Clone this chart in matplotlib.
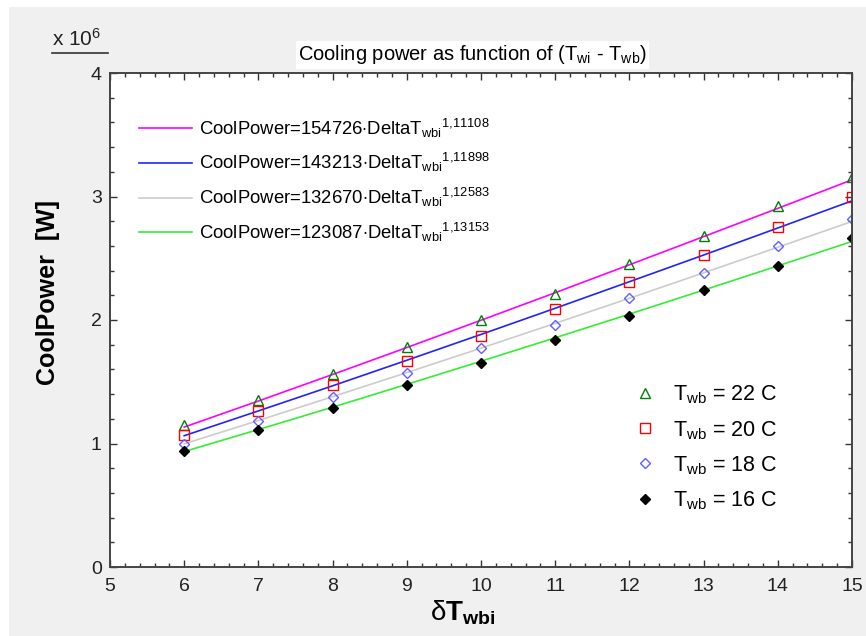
import numpy as np
import matplotlib
matplotlib.use("Agg")
import matplotlib.pyplot as plt
from matplotlib.lines import Line2D
from matplotlib.ticker import MultipleLocator

plt.rcParams['font.family'] = 'Liberation Sans'
plt.rcParams['mathtext.fontset'] = 'custom'
plt.rcParams['mathtext.rm'] = 'Liberation Sans'
plt.rcParams['mathtext.it'] = 'Liberation Sans:italic'
plt.rcParams['mathtext.bf'] = 'Liberation Sans:bold'

# ---- data (values in units of 1e6 W) ----
dT = [6, 7, 8, 9, 10, 11, 12, 13, 14, 15]

# measured points
p22 = [1.15, 1.35, 1.56, 1.78, 2.00, 2.21, 2.45, 2.68, 2.92, 3.16]
p20 = [1.07, 1.26, 1.47, 1.67, 1.87, 2.09, 2.31, 2.53, 2.75, 3.00]
p18 = [1.00, 1.18, 1.38, 1.57, 1.77, 1.96, 2.18, 2.38, 2.60, 2.82]
p16 = [0.94, 1.11, 1.29, 1.47, 1.65, 1.84, 2.03, 2.24, 2.44, 2.66]

# fitted curves
f22 = [1.133, 1.344, 1.559, 1.777, 1.998, 2.221, 2.447, 2.675, 2.904, 3.135]
f20 = [1.063, 1.264, 1.467, 1.674, 1.883, 2.095, 2.310, 2.526, 2.745, 2.965]
f18 = [0.997, 1.186, 1.379, 1.574, 1.772, 1.973, 2.176, 2.382, 2.589, 2.798]
f16 = [0.935, 1.113, 1.294, 1.479, 1.666, 1.856, 2.048, 2.242, 2.438, 2.636]

fit_labels = [
    r'CoolPower=154726$\cdot$DeltaT$_{\mathrm{wbi}}$$^{1{,}11108}$',
    r'CoolPower=143213$\cdot$DeltaT$_{\mathrm{wbi}}$$^{1{,}11898}$',
    r'CoolPower=132670$\cdot$DeltaT$_{\mathrm{wbi}}$$^{1{,}12583}$',
    r'CoolPower=123087$\cdot$DeltaT$_{\mathrm{wbi}}$$^{1{,}13153}$',
]
pt_labels = [r'T$_{\mathrm{wb}}$ = 22 C', r'T$_{\mathrm{wb}}$ = 20 C',
             r'T$_{\mathrm{wb}}$ = 18 C', r'T$_{\mathrm{wb}}$ = 16 C']

fig = plt.figure(figsize=(8.66, 6.36), dpi=100, facecolor='#f0f0f0')
ax = fig.add_axes([110/866, 1 - 567/636, 742/866, 494/636])
ax.set_facecolor('white')

# curves
lc = ['#ff00ff', '#2222ff', '#cccccc', '#33ee33']
fits = [f22, f20, f18, f16]
hl = []
for f, c, lab in zip(fits, lc, fit_labels):
    h, = ax.plot(dT, f, color=c, lw=1.2, label=lab)
    hl.append(h)

# points
hp = []
hp.append(ax.plot(dT, p22, ls='none', marker='^', ms=7, mfc='none', mec='#008000', mew=1.0)[0])
hp.append(ax.plot(dT, p20, ls='none', marker='s', ms=7, mfc='none', mec='#ff0000', mew=1.0)[0])
hp.append(ax.plot(dT, p18, ls='none', marker='D', ms=5.5, mfc='none', mec='#6060ff', mew=1.0)[0])
hp.append(ax.plot(dT, p16, ls='none', marker='D', ms=5, mfc='black', mec='black', mew=1.0)[0])

ax.set_xlim(5, 15)
ax.set_ylim(0, 4)
ax.xaxis.set_major_locator(MultipleLocator(1))
ax.xaxis.set_minor_locator(MultipleLocator(0.2))
ax.yaxis.set_major_locator(MultipleLocator(1))
ax.yaxis.set_minor_locator(MultipleLocator(0.2))
ax.tick_params(which='both', direction='in', top=True, right=True, colors='#333333',
               labelcolor='#222222')
ax.tick_params(which='major', length=5, width=1, labelsize=14)
ax.tick_params(which='minor', length=3, width=1)
ax.tick_params(axis='x', pad=8)
ax.tick_params(axis='y', pad=6)
for s in ax.spines.values():
    s.set_color('#444444')
    s.set_linewidth(1.4)

ax.set_xlabel(r'δ$\mathbf{T}_{\mathbf{wbi}}$', fontsize=20)
ax.xaxis.set_label_coords(0.476, -0.063)
ax.xaxis.label.set_va('top')
ax.set_ylabel('CoolPower  [W]', fontsize=18, fontweight='bold')
ax.yaxis.set_label_coords(-0.067, 0.556)

ax.set_title(r'Cooling power as function of (T$_{\mathrm{wi}}$ - T$_{\mathrm{wb}}$)',
             fontsize=14.5, pad=9, x=0.4885,
             bbox=dict(facecolor='white', edgecolor='none', pad=1.5))

# x 10^6 multiplier
fig.text(52/866, 1 - 46/636, r'x 10$^{6}$', fontsize=15, ha='left', va='baseline',
         color='#222222')
fig.add_artist(Line2D([52/866, 108/866], [1 - 53/636, 1 - 53/636],
                      color='#333333', lw=1.2))

leg1 = ax.legend(handles=hl, loc='upper left', bbox_to_anchor=(0.017, 0.945),
                 frameon=False, fontsize=13.3, handlelength=2.87,
                 handletextpad=0.38, labelspacing=0.62)
ax.add_artist(leg1)
ax.legend(handles=hp, labels=pt_labels, loc='upper left',
          bbox_to_anchor=(0.681, 0.41), frameon=False, fontsize=15.5,
          handlelength=1.0, handletextpad=0.8, labelspacing=0.58)

# white strips along the top and left edges
fig.add_artist(plt.Rectangle((0, 1 - 7/636), 1, 7/636, transform=fig.transFigure,
                             facecolor='white', edgecolor='none'))
fig.add_artist(plt.Rectangle((0, 0), 9/866, 1, transform=fig.transFigure,
                             facecolor='white', edgecolor='none'))

fig.savefig('out.png', dpi=100, facecolor=fig.get_facecolor())
